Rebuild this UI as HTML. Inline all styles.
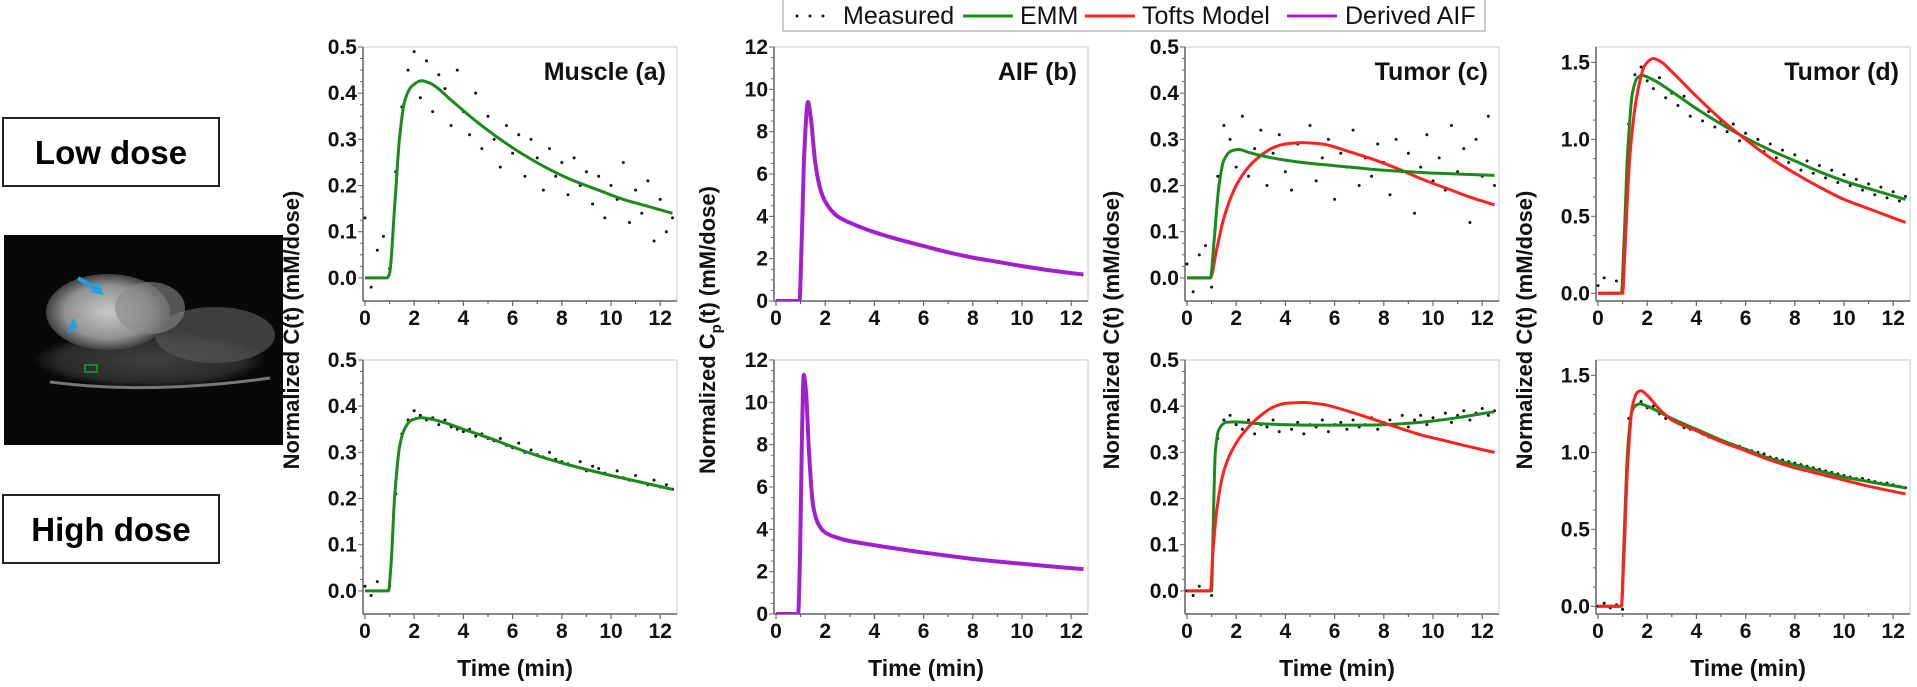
<!DOCTYPE html>
<html><head><meta charset="utf-8">
<style>
html,body{margin:0;padding:0;background:#fff;}
body{width:1917px;height:687px;overflow:hidden;position:relative;font-family:"Liberation Sans",Arial,sans-serif;}
svg{position:absolute;left:0;top:0;}
</style></head>
<body>
<svg id="fig" width="1917" height="687" viewBox="0 0 1917 687" xmlns="http://www.w3.org/2000/svg">
  <defs>
    <radialGradient id="tumorG" cx="0.5" cy="0.5" r="0.5">
      <stop offset="0" stop-color="#c8c8c8"/><stop offset="0.7" stop-color="#909090"/><stop offset="1" stop-color="#404040"/>
    </radialGradient>
    <radialGradient id="bodyG" cx="0.5" cy="0.5" r="0.5">
      <stop offset="0" stop-color="#404040"/><stop offset="0.8" stop-color="#2a2a2a"/><stop offset="1" stop-color="#0a0a0a"/>
    </radialGradient>
  </defs>
  <g>
    <rect x="3" y="118" width="216" height="68" fill="#fff" stroke="#222" stroke-width="2"/>
    <text x="111" y="164" text-anchor="middle" font-family="Liberation Sans, sans-serif" font-weight="bold" font-size="33" fill="#000">Low dose</text>
  </g>
  <g>
    <rect x="3" y="495" width="216" height="68" fill="#fff" stroke="#222" stroke-width="2"/>
    <text x="111" y="541" text-anchor="middle" font-family="Liberation Sans, sans-serif" font-weight="bold" font-size="33" fill="#000">High dose</text>
  </g>
  <g>
    <rect x="4" y="235" width="279" height="210" fill="#080808"/>
    <ellipse cx="150" cy="360" rx="115" ry="28" fill="url(#bodyG)"/>
    <ellipse cx="215" cy="335" rx="60" ry="28" fill="#555" opacity="0.7"/>
    <ellipse cx="108" cy="312" rx="62" ry="38" fill="url(#tumorG)"/>
    <ellipse cx="150" cy="308" rx="35" ry="26" fill="#888" opacity="0.6"/>
    <path d="M50 382 Q150 395 270 378" stroke="#777" stroke-width="3" fill="none"/>
    <path d="M78 278 L98 290" stroke="#1aa3e8" stroke-width="4"/>
    <polygon points="104,295 90,292 98,283" fill="#1aa3e8"/>
    <polygon points="67,334 78,327 73,318" fill="#1aa3e8"/>
    <rect x="85" y="365" width="12" height="7" fill="none" stroke="#1a9a3a" stroke-width="1.5"/>
  </g>
  <g>
    <rect x="783" y="-2" width="702" height="33" fill="#fff" stroke="#bbb" stroke-width="1.5"/>
    <g>
      <circle cx="797" cy="16" r="1.5" fill="#111"/><circle cx="810" cy="16" r="1.5" fill="#111"/><circle cx="823" cy="16" r="1.5" fill="#111"/>
      <text x="843" y="24" font-size="25" fill="#111">Measured</text>
    </g>
    <g>
      <line x1="963" y1="16" x2="1013" y2="16" stroke="#1a8a1a" stroke-width="3"/>
      <text x="1020" y="24" font-size="25" fill="#111">EMM</text>
    </g>
    <g>
      <line x1="1085" y1="16" x2="1135" y2="16" stroke="#ff2020" stroke-width="3"/>
      <text x="1142" y="24" font-size="25" fill="#111">Tofts Model</text>
    </g>
    <g>
      <line x1="1287" y1="16" x2="1337" y2="16" stroke="#a020d0" stroke-width="3"/>
      <text x="1345" y="24" font-size="25" fill="#111">Derived AIF</text>
    </g>
  </g>
  <g id="panels"></g>
</svg>
<script>
const measuredTimes = [0,0.25,0.5,0.75,1,1.25,1.5,1.75,2,2.25,2.5,2.75,3,3.25,3.5,3.75,4,4.25,4.5,4.75,5,5.25,5.5,5.75,6,6.25,6.5,6.75,7,7.25,7.5,7.75,8,8.25,8.5,8.75,9,9.25,9.5,9.75,10,10.25,10.5,10.75,11,11.25,11.5,11.75,12,12.25,12.5];
const muscleLowMeasured = [0.13,-0.02,0.06,0.09,0.02,0.23,0.37,0.45,0.49,0.39,0.47,0.36,0.44,0.41,0.33,0.45,0.36,0.31,0.40,0.28,0.35,0.30,0.24,0.33,0.27,0.31,0.22,0.30,0.26,0.19,0.28,0.22,0.25,0.18,0.26,0.20,0.23,0.16,0.22,0.13,0.20,0.17,0.25,0.12,0.19,0.14,0.21,0.08,0.17,0.10,0.13];
const muscleHighMeasured = [0.01,-0.01,0.02,0.0,0.01,0.21,0.34,0.37,0.39,0.38,0.37,0.375,0.36,0.37,0.355,0.35,0.345,0.35,0.335,0.34,0.33,0.325,0.33,0.315,0.31,0.32,0.30,0.305,0.295,0.29,0.3,0.285,0.28,0.275,0.27,0.28,0.26,0.27,0.265,0.255,0.25,0.26,0.245,0.24,0.25,0.235,0.23,0.24,0.225,0.23,0.22];
const tumorCLowMeasured = [0.03,-0.03,0.05,0.07,-0.02,0.22,0.33,0.3,0.24,0.35,0.22,0.28,0.32,0.2,0.27,0.31,0.23,0.19,0.29,0.25,0.33,0.21,0.26,0.3,0.17,0.27,0.24,0.32,0.2,0.26,0.22,0.29,0.25,0.18,0.3,0.23,0.27,0.14,0.24,0.31,0.21,0.26,0.19,0.33,0.23,0.28,0.12,0.3,0.22,0.35,0.2];
const tumorCHighMeasured = [0.0,-0.01,0.01,0.0,-0.01,0.33,0.37,0.38,0.36,0.35,0.37,0.34,0.36,0.355,0.37,0.345,0.36,0.35,0.365,0.34,0.36,0.355,0.37,0.345,0.36,0.365,0.35,0.37,0.355,0.36,0.375,0.35,0.365,0.37,0.36,0.38,0.355,0.37,0.38,0.36,0.375,0.37,0.385,0.365,0.38,0.39,0.37,0.385,0.395,0.38,0.39];
const tumorDLowMeasured = [0.05,0.1,0.0,0.08,0.02,1.1,1.42,1.47,1.38,1.33,1.4,1.27,1.3,1.22,1.28,1.15,1.2,1.12,1.18,1.08,1.12,1.05,1.1,0.99,1.04,0.97,1.0,0.92,0.97,0.88,0.93,0.85,0.9,0.8,0.86,0.78,0.83,0.75,0.8,0.72,0.77,0.7,0.74,0.67,0.71,0.64,0.69,0.62,0.66,0.6,0.63];
const tumorDHighMeasured = [0.0,0.02,-0.01,0.01,-0.02,1.22,1.3,1.33,1.29,1.3,1.25,1.22,1.21,1.19,1.16,1.15,1.14,1.12,1.1,1.09,1.08,1.06,1.05,1.04,1.02,1.01,1.0,0.99,0.97,0.96,0.95,0.94,0.93,0.92,0.91,0.9,0.89,0.88,0.87,0.86,0.85,0.84,0.83,0.83,0.82,0.81,0.8,0.8,0.79,0.78,0.77];

const muscleLowEmmT = [0,0.9,1.0,1.2,1.4,1.6,1.9,2.3,2.7,3.5,4.5,5.5,6.5,7.5,8.5,9.5,10.5,11.5,12.5];
const muscleLowEmmV = [0,0,0.01,0.15,0.3,0.38,0.415,0.427,0.42,0.385,0.34,0.30,0.265,0.235,0.21,0.19,0.17,0.155,0.14];
const muscleHighEmmT = [0,0.95,1.05,1.2,1.4,1.6,1.9,2.3,3,4,5,6,7,8,9,10,11,12,12.5];
const muscleHighEmmV = [0,0,0.05,0.2,0.31,0.35,0.37,0.375,0.368,0.35,0.332,0.312,0.293,0.277,0.263,0.25,0.238,0.226,0.22];
const aifLowT = [0,0.95,1.05,1.15,1.3,1.4,1.6,1.8,2.0,2.5,3,4,5,6,7,8,9,10,11,12,12.5];
const aifLowV = [0,0,3,7,9.4,8.8,6.5,5.3,4.7,4.0,3.7,3.25,2.9,2.6,2.3,2.05,1.85,1.65,1.47,1.32,1.25];
const aifHighT = [0,0.9,0.98,1.05,1.13,1.22,1.35,1.5,1.7,2,2.5,3,4,5,6,7,8,9,10,11,12,12.5];
const aifHighV = [0,0,3,8,11.3,10.5,7.5,5.2,4.3,3.85,3.6,3.45,3.25,3.07,2.9,2.75,2.6,2.48,2.37,2.27,2.17,2.12];
const tumorCLowEmmT = [0,0.95,1.1,1.3,1.5,1.8,2.1,2.5,3,4,5,6,7,8,9,10,11,12.5];
const tumorCLowEmmV = [0,0,0.08,0.2,0.255,0.275,0.278,0.272,0.265,0.255,0.248,0.243,0.238,0.233,0.23,0.227,0.225,0.222];
const tumorCLowToftsT = [0,0.95,1.2,1.5,2,2.5,3,3.5,4,4.7,5.5,6.5,7.5,8.5,9.5,10.5,11.5,12.5];
const tumorCLowToftsV = [0,0,0.06,0.13,0.2,0.24,0.265,0.282,0.29,0.293,0.29,0.275,0.258,0.238,0.215,0.195,0.175,0.158];
const tumorCHighEmmT = [0,1.0,1.05,1.15,1.3,1.6,2,3,5,7,8,9,10,11,12,12.5];
const tumorCHighEmmV = [0,0,0.1,0.3,0.35,0.365,0.366,0.362,0.359,0.359,0.36,0.363,0.368,0.375,0.384,0.388];
const tumorCHighToftsT = [0,0.95,1.05,1.2,1.5,2,2.5,3,3.5,4,4.7,5.5,6.5,7.5,8.5,9.5,10.5,11.5,12.5];
const tumorCHighToftsV = [0,0,0.08,0.17,0.26,0.32,0.355,0.38,0.398,0.406,0.408,0.404,0.39,0.373,0.355,0.338,0.325,0.312,0.3];
const tumorDLowEmmT = [0,0.95,1.05,1.2,1.4,1.6,1.8,2.2,3,4,5,6,7,8,9,10,11,12.5];
const tumorDLowEmmV = [0,0,0.3,0.9,1.3,1.4,1.415,1.39,1.31,1.2,1.1,1.01,0.93,0.86,0.79,0.73,0.68,0.61];
const tumorDLowToftsT = [0,1.0,1.1,1.3,1.6,1.9,2.25,2.6,3,4,5,6,7,8,9,10,11,12.5];
const tumorDLowToftsV = [0,0,0.3,0.9,1.3,1.48,1.525,1.5,1.44,1.28,1.13,1.0,0.88,0.78,0.69,0.61,0.55,0.46];
const tumorDHighEmmT = [0,0.95,1.05,1.2,1.35,1.5,1.7,2,3,4,5,6,7,8,9,10,11,12.5];
const tumorDHighEmmV = [0,0,0.4,1.0,1.25,1.3,1.315,1.3,1.22,1.15,1.08,1.02,0.96,0.92,0.88,0.84,0.81,0.77];
const tumorDHighToftsT = [0,0.95,1.05,1.2,1.4,1.6,1.75,2,2.5,3,4,5,6,7,8,9,10,11,12.5];
const tumorDHighToftsV = [0,0,0.3,0.9,1.3,1.39,1.4,1.37,1.28,1.21,1.14,1.07,1.01,0.95,0.9,0.86,0.82,0.78,0.73];

const xTicks = [0,2,4,6,8,10,12];
const concTicks = [0,0.1,0.2,0.3,0.4,0.5];
const concTickLabels = ["0.0","0.1","0.2","0.3","0.4","0.5"];
const aifTicks = [0,2,4,6,8,10,12];
const aifTickLabels = ["0","2","4","6","8","10","12"];
const dTicks = [0,0.5,1.0,1.5];
const dTickLabels = ["0.0","0.5","1.0","1.5"];

const NS = "http://www.w3.org/2000/svg";
const root = document.getElementById('panels');
const colX0 = [365,776,1187,1598];
const rowTop = [47,360];
const PH = 254, PXM = 24.6;
const GREEN = "#1a8a1a", RED = "#ff2020", PURPLE = "#a020d0";

function mk(tag, attrs, parent){ const e = document.createElementNS(NS, tag); for(const k in attrs) e.setAttribute(k, attrs[k]); (parent||root).appendChild(e); return e; }

// monotone cubic (Fritsch-Carlson) path, no overshoot
function smoothPath(pts){
  const n = pts.length;
  const dx = [], dy = [], m = [];
  for(let i=0;i<n-1;i++){ dx[i]=pts[i+1][0]-pts[i][0]; dy[i]=pts[i+1][1]-pts[i][1]; m[i]=dy[i]/dx[i]; }
  const tg = [m[0]];
  for(let i=1;i<n-1;i++){
    if(m[i-1]*m[i]<=0) tg[i]=0;
    else { const w1=2*dx[i]+dx[i-1], w2=dx[i]+2*dx[i-1]; tg[i]=(w1+w2)/(w1/m[i-1]+w2/m[i]); }
  }
  tg[n-1]=m[n-2];
  let d = "M" + pts[0][0].toFixed(1) + " " + pts[0][1].toFixed(1);
  for(let i=0;i<n-1;i++){
    const h = dx[i]/3;
    d += " C"+(pts[i][0]+h).toFixed(1)+" "+(pts[i][1]+tg[i]*h).toFixed(1)+" "+(pts[i+1][0]-h).toFixed(1)+" "+(pts[i+1][1]-tg[i+1]*h).toFixed(1)+" "+pts[i+1][0].toFixed(1)+" "+pts[i+1][1].toFixed(1);
  }
  return d;
}

function panel(col,row,cfg){
  const x0 = colX0[col], top = rowTop[row], bottom = top + PH;
  const g = mk('g',{});
  
  
  const xs = t => x0 + t*PXM;
  const ys = v => bottom - (v - cfg.yMin)/(cfg.yMax - cfg.yMin)*PH;
  const left = x0-2, right = x0+312;
  const frame = mk('rect',{x:left,y:top,width:right-left,height:PH,fill:'#fff',stroke:'#dcdcdc','stroke-width':1.5},g);
  
  
  const ax = mk('g',{},g);
  
  
  mk('line',{x1:left,y1:bottom,x2:right,y2:bottom,stroke:'#666','stroke-width':1.5},ax);
  for(let t=0;t<=12;t+=1){ mk('line',{x1:xs(t),y1:bottom,x2:xs(t),y2:bottom+(t%2===0?5:3),stroke:'#666','stroke-width':1.2},ax); }
  xTicks.forEach(t=>{ const tx = mk('text',{x:xs(t),y:bottom+24,'text-anchor':'middle','font-size':21,'font-weight':'bold',fill:'#111'},ax); tx.textContent = String(t); });
  if(row===1){
    const xt = mk('text',{x:x0+150,y:bottom+62,'text-anchor':'middle','font-size':23,'font-weight':'bold',fill:'#111'},g);
    
    
    xt.textContent = "Time (min)";
  }
  const ay = mk('g',{},g);
  
  
  mk('line',{x1:left,y1:top,x2:left,y2:bottom,stroke:'#666','stroke-width':1.5},ay);
  const step = cfg.ticks[1]-cfg.ticks[0];
  for(let v=cfg.ticks[0]; v<=cfg.yMax+1e-9; v+=step/4){
    if(ys(v)<top-0.5) break;
    const major = Math.abs((v-cfg.ticks[0])/step - Math.round((v-cfg.ticks[0])/step))<1e-6;
    mk('line',{x1:left,y1:ys(v),x2:left-(major?5:3),y2:ys(v),stroke:'#666','stroke-width':1},ay);
  }
  cfg.ticks.forEach((v,i)=>{ const tx = mk('text',{x:left-6,y:ys(v)+7,'text-anchor':'end','font-size':21,'font-weight':'bold',fill:'#111'},ay); tx.textContent = cfg.tickLabels[i]; });
  if(cfg.title){ const tt = mk('text',{x:right-11,y:top+33,'text-anchor':'end','font-size':25,'font-weight':'bold',fill:'#111'},g);
    
    
    tt.textContent = cfg.title; }
  const cid = 'clip'+col+row;
  const cp = mk('clipPath',{id:cid},g); mk('rect',{x:left,y:top,width:right-left,height:PH},cp);
  const data = mk('g',{'clip-path':'url(#'+cid+')'},g);
  if(cfg.measured){
    const mg = mk('g',{},data);
    
    
    measuredTimes.forEach((t,i)=>{
      const c = mk('circle',{cx:xs(t),cy:ys(cfg.measured[i]),r:1.5,fill:'#111'},mg);
      
      
    });
  }
  cfg.lines.forEach(L=>{
    const pts = L.t.map((t,i)=>[xs(t),ys(L.v[i])]);
    const p = mk('path',{d:smoothPath(pts),fill:'none',stroke:L.color,'stroke-width':L.w||3,'stroke-linejoin':'round'},data);
    
    
  });
}

const conc = {yMin:-0.05,yMax:0.5,ticks:concTicks,tickLabels:concTickLabels};
const aifc = {yMin:0,yMax:12,ticks:aifTicks,tickLabels:aifTickLabels};
const dc = {yMin:-0.05,yMax:1.6,ticks:dTicks,tickLabels:dTickLabels};

panel(0,0,Object.assign({name:'muscle-low-panel',title:'Muscle (a)',measured:muscleLowMeasured,lines:[{t:muscleLowEmmT,v:muscleLowEmmV,color:GREEN,name:'emm-line'}]},conc));
panel(0,1,Object.assign({name:'muscle-high-panel',measured:muscleHighMeasured,lines:[{t:muscleHighEmmT,v:muscleHighEmmV,color:GREEN,name:'emm-line'}]},conc));
panel(1,0,Object.assign({name:'aif-low-panel',title:'AIF (b)',lines:[{t:aifLowT,v:aifLowV,color:PURPLE,w:4,name:'derived-aif-line'}]},aifc));
panel(1,1,Object.assign({name:'aif-high-panel',lines:[{t:aifHighT,v:aifHighV,color:PURPLE,w:4,name:'derived-aif-line'}]},aifc));
panel(2,0,Object.assign({name:'tumor-c-low-panel',title:'Tumor (c)',measured:tumorCLowMeasured,lines:[{t:tumorCLowToftsT,v:tumorCLowToftsV,color:RED,name:'tofts-line'},{t:tumorCLowEmmT,v:tumorCLowEmmV,color:GREEN,name:'emm-line'}]},conc));
panel(2,1,Object.assign({name:'tumor-c-high-panel',measured:tumorCHighMeasured,lines:[{t:tumorCHighEmmT,v:tumorCHighEmmV,color:GREEN,name:'emm-line'},{t:tumorCHighToftsT,v:tumorCHighToftsV,color:RED,name:'tofts-line'}]},conc));
panel(3,0,Object.assign({name:'tumor-d-low-panel',title:'Tumor (d)',measured:tumorDLowMeasured,lines:[{t:tumorDLowEmmT,v:tumorDLowEmmV,color:GREEN,name:'emm-line'},{t:tumorDLowToftsT,v:tumorDLowToftsV,color:RED,name:'tofts-line'}]},dc));
panel(3,1,Object.assign({name:'tumor-d-high-panel',measured:tumorDHighMeasured,lines:[{t:tumorDHighEmmT,v:tumorDHighEmmV,color:GREEN,name:'emm-line'},{t:tumorDHighToftsT,v:tumorDHighToftsV,color:RED,name:'tofts-line'}]},dc));

const yTitleX = [299,715,1119,1532];
yTitleX.forEach((x,i)=>{
  const t = mk('text',{x:x,y:330,transform:'rotate(-90 '+x+' 330)','text-anchor':'middle','font-size':22,'font-weight':'bold',fill:'#111'});
  
  
  if(i===1){
    t.appendChild(document.createTextNode('Normalized C'));
    const s = document.createElementNS(NS,'tspan'); s.setAttribute('font-size','15'); s.setAttribute('dy','6'); s.textContent='p'; t.appendChild(s);
    const s2 = document.createElementNS(NS,'tspan'); s2.setAttribute('dy','-6'); s2.textContent='(t)  (mM/dose)'; t.appendChild(s2);
  } else {
    t.textContent = 'Normalized C(t)  (mM/dose)';
  }
});
</script>
</body></html>
